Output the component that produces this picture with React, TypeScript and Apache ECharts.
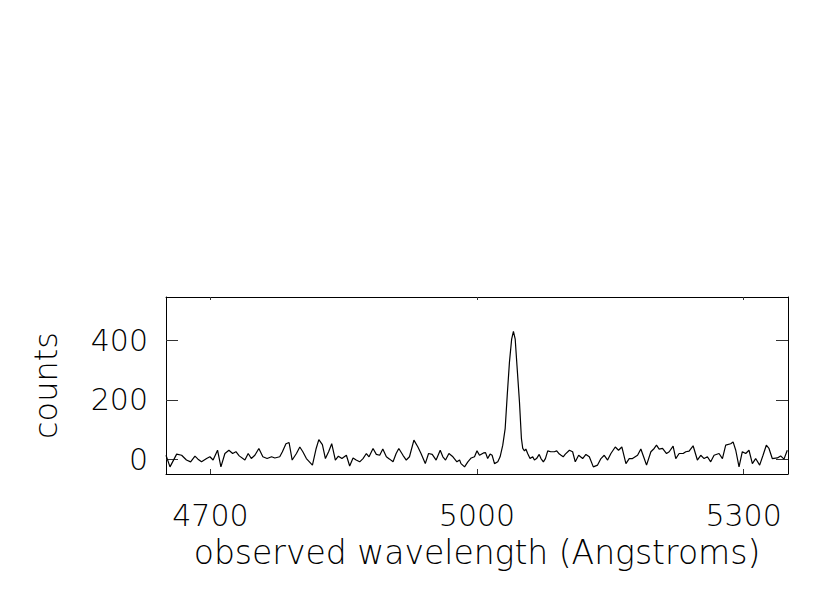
import React, { useEffect, useRef } from "react";
import * as echarts from "echarts";

const wavelengths = [
  4650, 4654.5, 4662, 4667.6, 4673, 4677.7, 4682.6, 4686, 4690, 4695.7, 4699.4, 4703, 4708, 4711.8,
  4716.3, 4720.8, 4725, 4728.7, 4732.4, 4738.8, 4742.5, 4746, 4750, 4754.5, 4759, 4763.8, 4768.8,
  4772.5, 4778, 4781, 4785, 4788.5, 4792, 4796.8, 4800.6, 4804, 4808, 4814.8, 4819, 4822, 4826,
  4829.4, 4833, 4836.5, 4840.6, 4844, 4848, 4853, 4856.7, 4860.5, 4864,
  4868, 4871.7, 4875.5, 4878.5, 4883, 4886.7, 4890.5, 4894, 4898, 4901.7, 4905.5, 4909, 4912,
  4916.7, 4920.4, 4924, 4929, 4933.5, 4937, 4941.8, 4945.5, 4949.6, 4954, 4958.6, 4961.6, 4964.6,
  4968.4, 4972.9, 4977.4, 4980.4, 4982, 4986, 4989.7, 4993.5, 4997.2, 5000, 5002.8, 5007.3, 5009.6,
  5012, 5014.8, 5017, 5019.7, 5023.4, 5026, 5029, 5031.7, 5034, 5036.5, 5039, 5041, 5043, 5045,
  5047.8, 5050, 5051.5, 5053.4, 5055, 5057, 5059.7, 5062.7, 5064.6, 5067, 5070, 5072, 5074.7, 5077,
  5079.6, 5083, 5087, 5089.7, 5092.7, 5094.6, 5097, 5099.4,
  5104, 5107.6, 5110.6, 5114.4, 5118.9, 5122.6, 5126.4, 5130.9, 5135.7, 5139.5, 5143.2, 5147,
  5150.7, 5155.6, 5159.3, 5163, 5167.6, 5171.3, 5175, 5180.7, 5184.4, 5188.2, 5190.8, 5195.7,
  5199.4, 5202, 5205, 5208.8, 5213.3, 5216.3, 5220.7, 5223.7, 5227.5, 5232, 5235, 5238.7, 5243.2,
  5248, 5251.8, 5255.6, 5259.3, 5263, 5266.8, 5272.4, 5276.2, 5279.9, 5285.5, 5288.2, 5291.2,
  5294.9, 5298.6, 5302.4, 5306.1, 5309.9, 5313.6, 5318.1, 5321.9, 5325.6, 5328.6, 5332.3, 5338,
  5341.7, 5345.5, 5349.2,
];

const counts = [
  13, -26, 17, 13, -3, -9, 10, 0, -9, 2, 8, -3, 30, -26,
  19, 30, 19, 25, 11, -3, 19, 2, 13, 36, 8, 2, 8,
  4, 8, 25, 52, 56, -3, 19, 41, 25, 2, -20, 36, 66, 49,
  2, 25, 52, -3, 10, 2, 13, -23, 4, -3,
  -9, 2, 19, 8, 36, 16, 13, 34, 8, 0, -9, 19, 36,
  13, -3, 8, 64, 41, 19, -15, 19, 16, -3, 30, 8, -3,
  19, 8, -9, -3, -15, -26, -9, 4, 8, 28, 13, 21, 22,
  2, 17, 13, -15, -9, 8, 47, 103, 214, 326, 404, 430, 404, 315,
  192, 69, 36, 28, 34, 19, 2, 8, -3, 2, 16, 2, -9, 2,
  28, 25, 25, 28, 17, 13, 8, 17,
  30, 25, -9, 13, 2, 16, 8, -26, -20, 2, 13, -3,
  19, 41, 30, 41, -15, 2, 2, 13, 34, 2, -20, 25,
  36, 47, 34, 36, 19, 25, 44, 2, 19, 19, 25, 27, 45,
  -3, 13, 2, 8, -9, 13, 19, 2, 47, 52, 58, 30,
  -26, 25, 19, 30, -15, 2, -20, 13, 47, 36, 2, 4,
  11, 0, 30,
];

const xTicks = [4700, 5000, 5300];
const yTicks = [0, 200, 400];

const FONT = "'DejaVu Sans', sans-serif";

export default function App() {
  const ref = useRef<HTMLDivElement>(null);
  useEffect(() => {
    document.body.style.margin = "0";
    if (!ref.current) return;
    const chart = echarts.init(ref.current, null, { renderer: "svg" });
    const axisLine = { show: true, onZero: false, lineStyle: { color: "#000", width: 1 } };
    const tickStyle = { color: "#333", width: 1 };
    const labelStyle = { color: "#000", fontSize: 30, fontFamily: FONT, fontWeight: 200 as any };
    const plain = (v: number) => String(v);
    chart.setOption({
      animation: false,
      backgroundColor: "#fff",
      grid: { left: 166, top: 297, width: 622, height: 177, containLabel: false },
      xAxis: [
        {
          type: "value",
          position: "bottom",
          min: 4650,
          max: 5350,
          axisLine,
          axisTick: { show: true, inside: true, length: 5, customValues: xTicks, lineStyle: tickStyle },
          axisLabel: { show: true, customValues: xTicks, margin: 26, formatter: plain, ...labelStyle },
          splitLine: { show: false },
          name: "observed wavelength (Angstroms)",
          nameLocation: "middle",
          nameGap: 62,
          nameTextStyle: { ...labelStyle, fontSize: 33 },
        },
        {
          type: "value",
          position: "top",
          min: 4650,
          max: 5350,
          axisLine,
          axisTick: { show: true, inside: true, length: 3, customValues: xTicks, lineStyle: tickStyle },
          axisLabel: { show: false },
          splitLine: { show: false },
        },
      ],
      yAxis: [
        {
          type: "value",
          position: "left",
          min: -50,
          max: 546,
          axisLine,
          axisTick: { show: true, inside: true, length: 12, customValues: yTicks, lineStyle: tickStyle },
          axisLabel: { show: true, customValues: yTicks, margin: 18, formatter: plain, ...labelStyle },
          splitLine: { show: false },
          name: "counts",
          nameLocation: "middle",
          nameRotate: 90,
          nameGap: 104,
          nameTextStyle: { ...labelStyle, fontSize: 32 },
        },
        {
          type: "value",
          position: "right",
          min: -50,
          max: 546,
          axisLine,
          axisTick: { show: true, inside: true, length: 12, customValues: yTicks, lineStyle: tickStyle },
          axisLabel: { show: false },
          splitLine: { show: false },
        },
      ],
      series: [
        {
          type: "line",
          xAxisIndex: 0,
          yAxisIndex: 0,
          data: wavelengths.map((w, i) => [w, counts[i]]),
          showSymbol: false,
          symbol: "none",
          lineStyle: { color: "#000", width: 1.2 },
          clip: true,
        },
      ],
    });
    return () => chart.dispose();
  }, []);
  return <div ref={ref} style={{ width: 830, height: 593 }} />;
}
